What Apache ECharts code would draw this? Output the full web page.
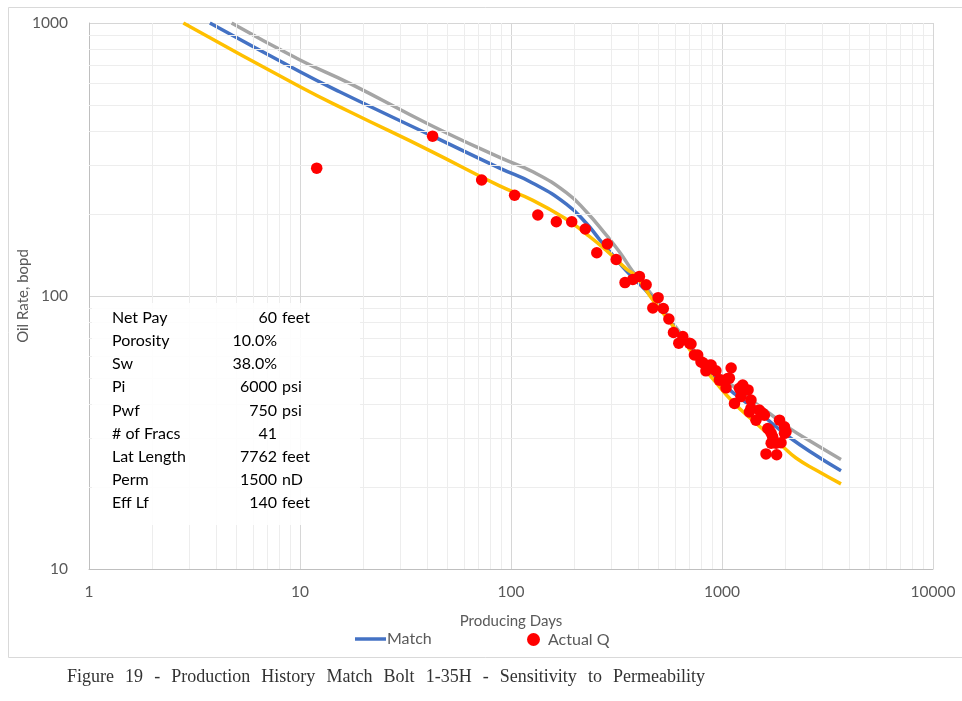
<!DOCTYPE html>
<html>
<head>
<meta charset="utf-8">
<script src="https://cdn.jsdelivr.net/npm/echarts@6/dist/echarts.min.js"></script>
<style>
  html, body { margin: 0; padding: 0; background: #ffffff; }
  #chart { width: 962px; height: 701px; }
</style>
</head>
<body>
<div id="chart"></div>
<script>
// Model runs: producing days vs. oil rate (bopd)
const highPermDays = [4.74, 10, 17.2, 41.2, 88.3, 127, 183, 227, 283, 327, 378, 470, 600, 780, 1000, 1300, 1676, 2085, 2600, 3664];
const highPermRate = [1000, 732, 601, 424, 322, 285, 239, 204, 167, 145, 123, 100, 77.5, 60, 50.5, 43, 37.2, 32.8, 29.5, 25.2];

const matchDays = [3.74, 10, 15.4, 42.5, 88.3, 127, 183, 227, 263, 304, 351, 470, 600, 780, 1000, 1166, 1450, 1804, 2011, 2600, 3664];
const matchRate = [1000, 663, 560, 385, 294, 259, 217, 185, 161, 141, 124, 98, 76, 58.5, 48, 43.4, 38.2, 33.2, 31, 27, 22.9];

const lowPermDays = [2.8, 10, 17.2, 41.2, 88.3, 127, 183, 227, 283, 351, 392, 470, 606, 782, 888, 1124, 1450, 1939, 2243, 2800, 3664];
const lowPermRate = [1000, 584, 473, 341, 253, 224, 191, 169, 147, 126, 118, 96.7, 75.1, 56.7, 50.6, 41.0, 34.2, 28.1, 25.5, 23, 20.5];

// Measured production (Actual Q)
const actualDays = [12.0, 42.5, 72.6, 104, 134, 164, 194, 225, 255, 286, 315, 347, 378, 406, 437, 470, 498, 527, 560, 589,
  624, 652, 701, 713, 740, 767, 795, 811, 839, 871, 888, 936, 972, 990, 1045, 1065, 1084, 1105, 1146, 1209,
  1229, 1254, 1276, 1329, 1348, 1372, 1372, 1449, 1502, 1559, 1588, 1648, 1676, 1710, 1738, 1710, 1770, 1804, 1873, 1905,
  1977, 2011, 1977, 1616, 1816];
const actualRate = [294, 385, 266, 234, 198, 187, 187, 176, 144, 155, 136, 112, 115, 118, 110, 90.4, 98.6, 90, 82.4, 73.5,
  67.2, 71.0, 67.2, 66.7, 60.8, 60.8, 57.4, 57.0, 53.2, 55.8, 55.9, 53.2, 49.2, 49.2, 46.1, 49.9, 50.0, 54.5, 40.4, 45.9,
  42.8, 47.2, 45.3, 45.3, 37.6, 41.6, 38.8, 35.1, 38.2, 37.2, 36.6, 32.7, 32.3, 31.4, 30.5, 28.9, 29.3, 28.9, 35.1, 29.0,
  33.2, 31.8, 31.4, 26.4, 26.2];

// Reservoir / completion inputs
const paramNames  = ['Net Pay', 'Porosity', 'Sw', 'Pi', 'Pwf', '# of Fracs', 'Lat Length', 'Perm', 'Eff Lf'];
const paramValues = ['60', '10.0%', '38.0%', '6000', '750', '41', '7762', '1500', '140'];
const paramUnits  = ['feet', '', '', 'psi', 'psi', '', 'feet', 'nD', 'feet'];

const captionWords = ['Figure', '19', '-', 'Production', 'History', 'Match', 'Bolt', '1-35H', '-', 'Sensitivity', 'to', 'Permeability'];

// Minor log grid positions (2..9 within each decade)
const minorX = [];
[1, 10, 100, 1000].forEach(d => { for (let m = 2; m <= 9; m++) minorX.push(m * d); });
const minorY = [];
[10, 100].forEach(d => { for (let m = 2; m <= 9; m++) minorY.push(m * d); });

const pairs = (xs, ys) => xs.map((x, i) => [x, ys[i]]);

const axisFont = 'Lato, "Noto Sans", sans-serif';
const gray = '#595959';

// Parameter table as text graphics
const tableTop = 318, rowH = 23.1;
const tableFont = '16px ' + axisFont;
const tableItems = [{
  type: 'rect', left: 92, top: 303, z: 50, silent: true,
  shape: { width: 268, height: 222 },
  style: { fill: 'rgba(255,255,255,0.88)' }
}];
paramNames.forEach((name, i) => {
  const y = tableTop + i * rowH;
  tableItems.push({ type: 'text', x: 112, y: y, z: 51,
    style: { text: name, font: tableFont, fill: '#000', textVerticalAlign: 'middle', textAlign: 'left' } });
  tableItems.push({ type: 'text', x: 277, y: y, z: 51,
    style: { text: paramValues[i], font: tableFont, fill: '#000', textVerticalAlign: 'middle', textAlign: 'right' } });
  if (paramUnits[i]) {
    tableItems.push({ type: 'text', x: 282, y: y, z: 51,
      style: { text: paramUnits[i], font: tableFont, fill: '#000', textVerticalAlign: 'middle', textAlign: 'left' } });
  }
});

// Caption below the chart, words justified across the figure line
const captionFont = '18px "Liberation Serif", "Times New Roman", serif';
const captionItems = (function () {
  const left = 67, right = 705, y = 677;
  const ctx = document.createElement('canvas').getContext('2d');
  ctx.font = captionFont;
  const widths = captionWords.map(w => ctx.measureText(w).width);
  const total = widths.reduce((a, b) => a + b, 0);
  const gap = (right - left - total) / (captionWords.length - 1);
  let x = left;
  return captionWords.map((w, i) => {
    const el = { type: 'text', x: x, y: y, z: 60, silent: true,
      style: { text: w, font: captionFont, fill: '#333333', textVerticalAlign: 'middle', textAlign: 'left' } };
    x += widths[i] + gap;
    return el;
  });
})();

const chart = echarts.init(document.getElementById('chart'), null, { renderer: 'canvas' });

const lineCommon = { type: 'line', symbol: 'none', showSymbol: false, smooth: 0.5 };

chart.setOption({
  animation: false,
  backgroundColor: '#ffffff',
  textStyle: { fontFamily: axisFont },
  grid: { left: 89, right: 29, top: 23, bottom: 132, outerBoundsMode: 'none', containLabel: false },
  legend: [
    {
      data: [{ name: 'Match', icon: 'rect' }], left: 355, top: 631, padding: 0,
      itemWidth: 31, itemHeight: 3.5,
      textStyle: { fontSize: 16, color: gray, fontFamily: axisFont, padding: [0, 0, 0, -4] },
      selectedMode: false
    },
    {
      data: [{ name: 'Actual Q', icon: 'circle' }], left: 527, top: 631.5, padding: 0,
      itemWidth: 13, itemHeight: 13,
      textStyle: { fontSize: 16, color: gray, fontFamily: axisFont, padding: [0, 0, 0, 3] },
      selectedMode: false
    }
  ],
  xAxis: {
    type: 'log', logBase: 10, min: 1, max: 10000,
    name: 'Producing Days', nameLocation: 'middle', nameGap: 45, nameMoveOverlap: false,
    nameTextStyle: { fontSize: 15, color: gray, fontFamily: axisFont },
    axisLine: { show: true, lineStyle: { color: '#bfbfbf', width: 1 } },
    axisTick: { show: false },
    axisLabel: { fontSize: 15.5, color: gray, margin: 15, fontFamily: axisFont, formatter: v => String(v) },
    splitLine: { show: true, lineStyle: { color: '#d6d6d6', width: 1 } }
  },
  yAxis: {
    type: 'log', logBase: 10, min: 10, max: 1000,
    name: 'Oil Rate, bopd', nameLocation: 'middle', nameGap: 58, nameRotate: 90, nameMoveOverlap: false,
    nameTextStyle: { fontSize: 15, color: gray, fontFamily: axisFont },
    axisLine: { show: true, lineStyle: { color: '#bfbfbf', width: 1 } },
    axisTick: { show: false },
    axisLabel: { fontSize: 15.5, color: gray, margin: 21, fontFamily: axisFont, formatter: v => String(v) },
    splitLine: { show: true, lineStyle: { color: '#d6d6d6', width: 1 } }
  },
  series: [
    {
      name: 'minor grid', type: 'line', data: [], z: 0, silent: true,
      markLine: {
        silent: true, symbol: ['none', 'none'], label: { show: false },
        lineStyle: { color: '#ededed', width: 1, type: 'solid' },
        data: minorX.map(v => ({ xAxis: v })).concat(minorY.map(v => ({ yAxis: v })))
      }
    },
    Object.assign({}, lineCommon, {
      name: 'Higher Perm', data: pairs(highPermDays, highPermRate), z: 3,
      lineStyle: { color: '#A5A5A5', width: 3.5 }, itemStyle: { color: '#A5A5A5' }
    }),
    Object.assign({}, lineCommon, {
      name: 'Match', data: pairs(matchDays, matchRate), z: 4,
      lineStyle: { color: '#4472C4', width: 3.5 }, itemStyle: { color: '#4472C4' }
    }),
    Object.assign({}, lineCommon, {
      name: 'Lower Perm', data: pairs(lowPermDays, lowPermRate), z: 5,
      lineStyle: { color: '#FFC000', width: 3.5 }, itemStyle: { color: '#FFC000' }
    }),
    {
      name: 'Actual Q', type: 'scatter', data: pairs(actualDays, actualRate),
      symbol: 'circle', symbolSize: 11.5, z: 6,
      itemStyle: { color: '#FF0000', opacity: 1 }
    }
  ],
  graphic: [
    {
      type: 'rect', left: 6, top: 5, z: -1, silent: true,
      shape: { width: 960, height: 650 },
      style: { fill: 'none', stroke: '#d9d9d9', lineWidth: 1 }
    }
  ].concat(tableItems, captionItems)
});
</script>
</body>
</html>
